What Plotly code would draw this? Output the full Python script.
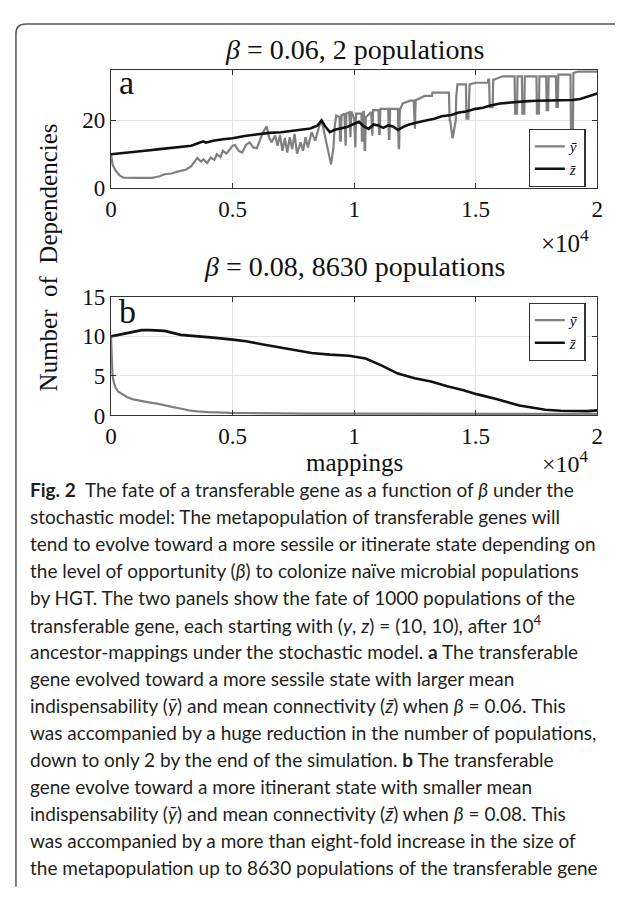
import plotly.graph_objects as go

# ---------------- data (x in mappings) ----------------
# panel a : beta = 0.06
a_ybar_x = [0, 60, 190, 350, 500, 800, 1200, 1700, 2000, 2200, 2500, 2700, 2900, 3100, 3300, 3450, 3550,
            3700, 3800, 3950, 4100, 4250, 4350, 4500, 4600, 4750, 4900, 5000, 5100, 5250, 5400, 5550,
            5700, 5850, 6000, 6150, 6250, 6400, 6500, 6600, 6750, 6850, 6950, 7050, 7150, 7250, 7350,
            7450, 7550, 7650, 7800, 7900, 8000, 8100, 8250, 8400, 8550, 8660, 8750, 8850, 8950, 9050,
            9150, 9200, 9260, 9400, 9420, 9450, 9480, 9500, 9600, 9620, 9650, 9680, 9700, 9800, 9830,
            9850, 9880, 9900, 10000, 10030, 10050, 10080, 10100, 10300, 10320, 10350, 10380, 10400, 10430,
            10450, 10480, 10500, 10700, 10730, 10750, 10780, 10800, 11000, 11030, 11050, 11080, 11100,
            11400, 11430, 11450, 11480, 11500, 11800, 11830, 11850, 11880, 11900, 12000, 12300, 12450,
            12480, 12500, 12530, 12550, 12900, 13200, 13220, 13800, 13900, 13930, 13950, 14050, 14150,
            14180, 14200, 14250, 14600, 14620, 14700, 14720, 14750, 15000, 15500, 15520, 15550, 15580,
            15700, 15720, 15750, 16100, 16600, 16620, 16700, 16720, 16900, 16920, 17000, 17020, 17500,
            17520, 17600, 17620, 17900, 17920, 17980, 18000, 18300, 18320, 18380, 18400, 18900, 18920,
            19000, 19020, 19200, 19220, 20000]
a_ybar_v = [10.0, 7.0, 5.1, 3.8, 3.1, 3.0, 3.0, 3.0, 3.5, 4.1, 4.3, 4.8, 5.1, 5.5, 6.5, 7.8, 8.9,
            7.8, 8.5, 7.4, 9.0, 8.3, 10.0, 9.2, 11.0, 10.2, 11.8, 12.5, 12.7, 11.0, 10.5, 12.8,
            13.5, 12.0, 11.8, 14.5, 16.5, 18.2, 15.0, 13.5, 15.5, 12.5, 15.7, 11.0, 14.8, 10.5, 15.0,
            11.5, 16.0, 10.2, 13.5, 11.0, 15.0, 12.0, 16.5, 14.0, 18.0, 20.0, 17.0, 13.5, 10.0, 7.0,
            12.0, 18.0, 21.4, 21.0, 14.0, 14.0, 21.5, 21.5, 22.0, 12.5, 12.5, 22.0, 22.0, 22.4, 15.0,
            15.0, 22.4, 22.4, 20.5, 12.0, 12.0, 22.0, 22.0, 22.0, 14.0, 14.0, 22.5, 22.5, 11.3,
            11.3, 21.0, 21.0, 22.5, 15.5, 15.5, 23.0, 23.0, 23.0, 16.0, 16.0, 23.4, 23.4,
            23.4, 14.5, 14.5, 23.4, 23.4, 23.4, 11.8, 11.8, 23.4, 23.4, 25.0, 25.8, 25.8,
            17.5, 17.5, 26.0, 26.0, 27.2, 27.2, 28.2, 28.2, 28.2, 20.0, 20.0, 14.7, 20.0,
            20.0, 27.0, 30.6, 30.6, 20.5, 20.5, 30.6, 30.6, 31.1, 31.1, 32.0, 32.0, 23.9,
            23.9, 32.0, 32.0, 33.0, 33.0, 22.0, 22.0, 33.0, 33.0, 22.0, 22.0, 33.0, 33.0,
            22.0, 22.0, 33.0, 33.0, 23.0, 23.0, 33.0, 33.0, 24.0, 24.0, 33.5, 33.5, 17.1,
            17.1, 34.0, 34.4, 34.4, 34.4]

a_zbar_x = [0, 500, 1000, 1500, 2000, 2500, 3000, 3300, 3600, 3800, 3900, 4200, 4600, 5000, 5500,
            6000, 6500, 7000, 7300, 7600, 7900, 8200, 8500, 8660, 8800, 9000, 9200, 9400, 9700,
            10000, 10200, 10400, 10600, 10800, 11000, 11200, 11400, 11600, 11800, 12000, 12200,
            12500, 12800, 13000, 13300, 13600, 14000, 14300, 14600, 15000, 15300, 15600, 16000,
            16500, 17000, 17500, 18000, 18500, 19000, 19300, 19600, 19800, 20000]
a_zbar_v = [10.0, 10.3, 10.7, 11.1, 11.5, 11.9, 12.2, 12.5, 13.3, 13.8, 13.4, 14.0, 14.4, 14.7, 15.4,
            15.9, 16.3, 16.5, 16.8, 17.0, 17.3, 17.6, 18.5, 20.0, 18.3, 16.5, 17.2, 17.6, 18.0,
            19.0, 19.6, 18.2, 17.5, 18.8, 18.5, 17.8, 18.5, 18.2, 17.2, 18.0, 18.6,
            19.2, 19.8, 20.0, 20.5, 21.2, 21.6, 22.3, 22.6, 23.4, 23.7, 24.4, 25.0,
            25.4, 25.6, 25.8, 25.9, 26.0, 26.0, 26.3, 26.9, 27.3, 27.9]

# panel b : beta = 0.08
b_ybar_x = [0, 20, 60, 120, 190, 300, 460, 650, 870, 1200, 1550, 1900, 2200, 2550, 2900, 3200, 3550,
            4000, 4900, 6000, 8000, 10000, 12000, 14000, 16000, 18000, 20000]
b_ybar_v = [10.0, 7.8, 5.1, 4.1, 3.5, 3.0, 2.7, 2.35, 2.07, 1.85, 1.66, 1.5, 1.26, 1.05, 0.85, 0.65, 0.52,
            0.42, 0.32, 0.27, 0.24, 0.22, 0.22, 0.21, 0.21, 0.2, 0.2]

b_zbar_x = [0, 300, 700, 1260, 1600, 2200, 2870, 3550, 4200, 5000, 5560, 6200, 6900, 7600, 8250, 9000,
            9800, 10470, 11140, 11800, 12490, 13160, 13830, 14500, 15040, 15850, 16800, 17300, 17860,
            18500, 19200, 19600, 20000]
b_zbar_v = [10.0, 10.2, 10.5, 10.8, 10.8, 10.7, 10.2, 10.05, 9.85, 9.6, 9.4, 9.0, 8.6, 8.2, 7.9, 7.7,
            7.55, 7.2, 6.3, 5.3, 4.7, 4.3, 3.7, 3.2, 2.7, 2.07, 1.26, 1.0, 0.73, 0.6, 0.52, 0.55, 0.65]

x_tickvals = [0, 5000, 10000, 15000, 20000]
x_ticktext = ["0", "0.5", "1", "1.5", "2"]
a_yticks = [0, 20]
b_yticks = [0, 5, 10, 15]

title_a = "<i>β</i> = 0.06, 2 populations"
title_b = "<i>β</i> = 0.08, 8630 populations"
ylabel = "Number  of  Dependencies"
xlabel = "mappings"
leg_y = "<i>ȳ</i>"
leg_z = "<i>z̄</i>"

caption = [
    "<b>Fig. 2</b>\u00a0\u00a0The fate of a transferable gene as a function of <i>β</i> under the",
    "stochastic model: The metapopulation of transferable genes will",
    "tend to evolve toward a more sessile or itinerate state depending on",
    "the level of opportunity (<i>β</i>) to colonize naïve microbial populations",
    "by HGT. The two panels show the fate of 1000 populations of the",
    "transferable gene, each starting with (<i>y</i>, <i>z</i>) = (10, 10), after 10<sup>4</sup>",
    "ancestor-mappings under the stochastic model. <b>a</b> The transferable",
    "gene evolved toward a more sessile state with larger mean",
    "indispensability (<i>ȳ</i>) and mean connectivity (<i>z̄</i>) when <i>β</i> = 0.06. This",
    "was accompanied by a huge reduction in the number of populations,",
    "down to only 2 by the end of the simulation. <b>b</b> The transferable",
    "gene evolve toward a more itinerant state with smaller mean",
    "indispensability (<i>ȳ</i>) and mean connectivity (<i>z̄</i>) when <i>β</i> = 0.08. This",
    "was accompanied by a more than eight-fold increase in the size of",
    "the metapopulation up to 8630 populations of the transferable gene",
]

# ---------------- layout helpers ----------------
OFF = 8              # page margin of the browser body
W, H = 623 - 2 * OFF, 898 - 2 * OFF

def px(x):
    return (x - OFF) / W

def py(y):
    return 1 - (y - OFF) / H

SERIF = "Liberation Serif"
SANS = "Lato"
GRAY = "#808080"
BLACK = "#111111"
TXT = "#111111"

PL, PR = 107, 603
A_T, A_B = 59, 181
B_T, B_B = 293, 415

fig = go.Figure()
fig.add_trace(go.Scatter(x=a_ybar_x, y=a_ybar_v, mode="lines", name=leg_y,
                         line=dict(color=GRAY, width=2.2), xaxis="x", yaxis="y", legend="legend"))
fig.add_trace(go.Scatter(x=a_zbar_x, y=a_zbar_v, mode="lines", name=leg_z,
                         line=dict(color=BLACK, width=2.6), xaxis="x", yaxis="y", legend="legend"))
fig.add_trace(go.Scatter(x=b_ybar_x, y=b_ybar_v, mode="lines", name=leg_y,
                         line=dict(color=GRAY, width=2.2), xaxis="x2", yaxis="y2", legend="legend2"))
fig.add_trace(go.Scatter(x=b_zbar_x, y=b_zbar_v, mode="lines", name=leg_z,
                         line=dict(color=BLACK, width=2.6), xaxis="x2", yaxis="y2", legend="legend2"))

axis_common = dict(showgrid=True, gridcolor="#e3e3e3", gridwidth=1, showline=True, linecolor="#333333",
                   linewidth=1.3, mirror="ticks", ticks="inside", ticklen=5, tickcolor="#333333",
                   zeroline=False, tickfont=dict(family=SERIF, size=23, color=TXT))

legend_common = dict(bgcolor="white", bordercolor="#333333", borderwidth=1.2,
                     font=dict(family=SERIF, size=15, color=TXT), xanchor="left", yanchor="top",
                     tracegroupgap=0, itemwidth=30)

fig.update_layout(
    width=W, height=H, margin=dict(l=0, r=0, t=0, b=0),
    paper_bgcolor="white", plot_bgcolor="white",
    xaxis=dict(domain=[px(PL), px(PR)], range=[0, 20000], anchor="y", tickvals=x_tickvals,
               ticktext=x_ticktext, **axis_common),
    yaxis=dict(domain=[py(A_B), py(A_T)], range=[0, 35], anchor="x", tickvals=a_yticks, **axis_common),
    xaxis2=dict(domain=[px(PL), px(PR)], range=[0, 20000], anchor="y2", tickvals=x_tickvals,
                ticktext=x_ticktext, **axis_common),
    yaxis2=dict(domain=[py(B_B), py(B_T)], range=[0, 15], anchor="x2", tickvals=b_yticks, **axis_common),
    legend=dict(x=px(533), y=py(120), **legend_common),
    legend2=dict(x=px(533), y=py(299), **legend_common),
    showlegend=True,
)

def note(text, x, y, size, family=SERIF, xa="center", angle=0, color=TXT):
    return dict(text=text, x=px(x), y=py(y), xref="paper", yref="paper", showarrow=False,
                textangle=angle, font=dict(family=family, size=size, color=color),
                xanchor=xa, yanchor="middle")

ann = [
    note(title_a, 355, 38, 28),
    note(title_b, 355, 262, 28),
    note("a", 113, 72, 34, xa="left"),
    note("b", 113, 308, 34, xa="left"),
    note("×10<sup>4</sup>", 597, 235, 25, xa="right"),
    note("×10<sup>4</sup>", 597, 463, 24, xa="right"),
    note(xlabel, 355, 463, 25),
    note(ylabel, 43, 252, 25, angle=-90),
]

y0, dy = 491, 27.8
for i, line in enumerate(caption):
    ann.append(note(line, 22, y0 + i * dy, 19, family=SANS, xa="left", color="#231f20"))

fig.update_layout(annotations=ann)

# rounded outer frame (extends past the right and bottom edges)
r = 10
x0f, y0f = 10, 12
path = (f"M {px(x0f)},{py(900)} L {px(x0f)},{py(y0f + r)} "
        f"Q {px(x0f)},{py(y0f)} {px(x0f + r)},{py(y0f)} L {px(640)},{py(y0f)}")
fig.add_shape(type="path", path=path, xref="paper", yref="paper",
              line=dict(color="#555555", width=1.5))

fig.write_html("out.html")
